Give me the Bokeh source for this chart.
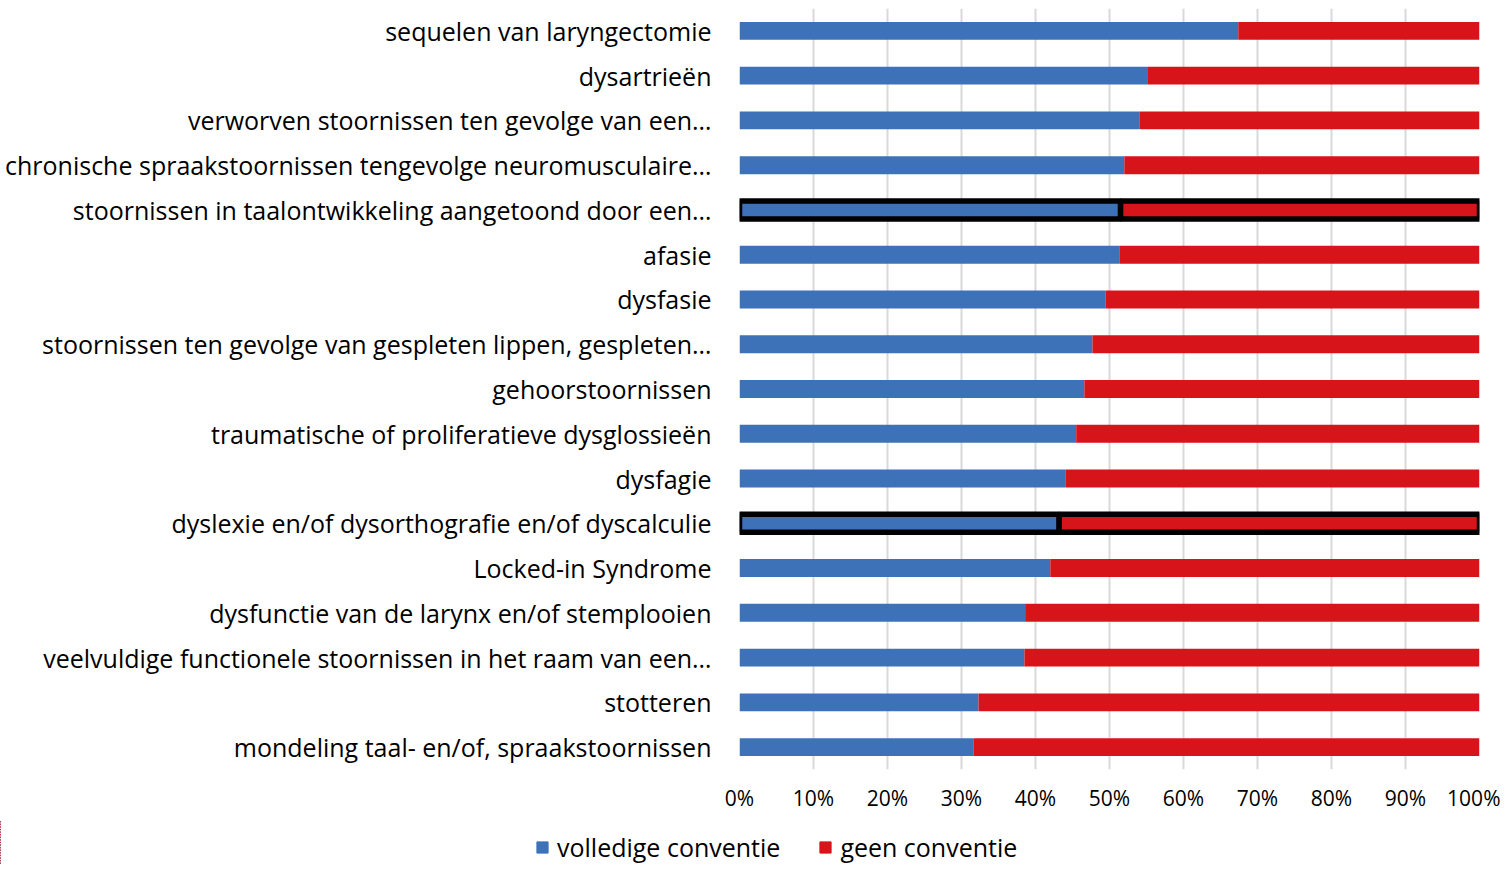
from bokeh.plotting import figure
from bokeh.layouts import column
from bokeh.models import ColumnDataSource, FixedTicker, NumeralTickFormatter, Legend, LegendItem, FactorRange
from bokeh.embed import file_html
from bokeh.resources import INLINE

categories = [
    "sequelen van laryngectomie",
    "dysartrieën",
    "verworven stoornissen ten gevolge van een…",
    "chronische spraakstoornissen tengevolge neuromusculaire…",
    "stoornissen in taalontwikkeling aangetoond door een…",
    "afasie",
    "dysfasie",
    "stoornissen ten gevolge van gespleten lippen, gespleten…",
    "gehoorstoornissen",
    "traumatische of proliferatieve dysglossieën",
    "dysfagie",
    "dyslexie en/of dysorthografie en/of dyscalculie",
    "Locked-in Syndrome",
    "dysfunctie van de larynx en/of stemplooien",
    "veelvuldige functionele stoornissen in het raam van een…",
    "stotteren",
    "mondeling taal- en/of, spraakstoornissen",
]
volledige = [0.674, 0.552, 0.541, 0.520, 0.515, 0.514, 0.495, 0.477, 0.466, 0.455, 0.441, 0.432, 0.420, 0.386, 0.385, 0.323, 0.316]
geen = [1 - v for v in volledige]
highlighted = [
    "stoornissen in taalontwikkeling aangetoond door een…",
    "dyslexie en/of dysorthografie en/of dyscalculie",
]
series = ["volledige", "geen"]
legend_labels = ["volledige conventie", "geen conventie"]
colors = ["#3D72B9", "#D7141A"]

FONT = "Open Sans"

source = ColumnDataSource(dict(
    cat=categories,
    volledige=volledige,
    geen=geen,
    la=[1.0 if c in highlighted else 0.0 for c in categories],
))

p = figure(
    width=1500, height=820,
    y_range=FactorRange(*list(reversed(categories))),
    x_range=(0, 1),
    output_backend="svg", toolbar_location=None,
    min_border_left=739, min_border_right=21, min_border_top=8, min_border_bottom=51,
)
p.outline_line_color = None
p.frame_align = False

p.hbar_stack(
    series, y="cat", height=0.4, color=colors, source=source,
    line_color="black", line_width=5.5, line_alpha="la",
)

p.xaxis.ticker = FixedTicker(ticks=[i / 10 for i in range(11)])
p.xaxis.formatter = NumeralTickFormatter(format="0%")
p.xaxis.axis_line_color = None
p.xaxis.major_tick_line_color = None
p.xaxis.minor_tick_line_color = None
p.xaxis.major_label_standoff = 8
p.xaxis.major_label_text_font = FONT
p.xaxis.major_label_text_font_size = "21px"
p.xaxis.major_label_text_color = "#000000"

p.yaxis.axis_line_color = None
p.yaxis.major_tick_line_color = None
p.yaxis.major_tick_out = 0
p.yaxis.major_tick_in = 0
p.yaxis.major_label_standoff = 28
p.yaxis.major_label_text_font = FONT
p.yaxis.major_label_text_font_size = "25px"
p.yaxis.major_label_text_color = "#000000"

p.xgrid.grid_line_color = "#D9D9D9"
p.xgrid.grid_line_width = 2
p.ygrid.grid_line_color = None

# Legend strip below the chart: same bars, but on an x range where they fall outside the frame
lg = figure(
    width=1500, height=44,
    x_range=(2, 3), y_range=FactorRange(*list(reversed(categories))),
    output_backend="svg", toolbar_location=None,
    min_border_left=0, min_border_right=0, min_border_top=0, min_border_bottom=0,
)
lg.frame_align = False
lg.axis.visible = False
lg.grid.visible = False
lg.outline_line_color = None
legend_renderers = lg.hbar_stack(series, y="cat", height=0.4, color=colors, source=source)
legend = Legend(
    items=[LegendItem(label=lab, renderers=[r]) for lab, r in zip(legend_labels, legend_renderers)],
    orientation="horizontal", location=(535, 0),
    label_text_font=FONT, label_text_font_size="25px", label_text_color="#000000",
    glyph_width=14, glyph_height=14, label_standoff=8, spacing=38,
    border_line_color=None, background_fill_alpha=0, padding=0, margin=0,
)
lg.add_layout(legend, "center")

layout = column(p, lg, spacing=0)
open("out.html", "w").write(file_html(layout, INLINE))
